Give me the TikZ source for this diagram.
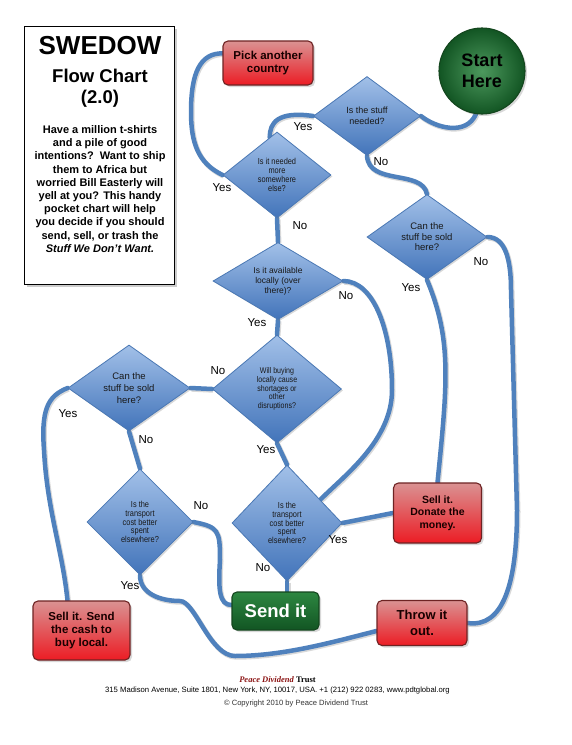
\documentclass[tikz,border=0pt]{standalone}
\usepackage{fontspec}
\setmainfont{Liberation Sans}
\newfontfamily\narrowf[FakeStretch=0.85]{Liberation Sans}
\newfontfamily\seriff{Liberation Serif}
\usetikzlibrary{shapes.geometric,shadows,calc}
\pgfdeclarelayer{back}
\pgfdeclarelayer{bg}
\pgfsetlayers{back,bg,main}
\definecolor{diatop}{RGB}{162,192,232}
\definecolor{diabot}{RGB}{66,116,186}
\definecolor{diaborder}{RGB}{74,120,180}
\definecolor{lineblue}{RGB}{79,129,189}
\definecolor{redtop}{RGB}{218,146,146}
\definecolor{redbot}{RGB}{236,28,36}
\definecolor{redborder}{RGB}{110,35,35}
\definecolor{gtop}{RGB}{45,135,65}
\definecolor{gbot}{RGB}{18,85,35}
\definecolor{gborder}{RGB}{20,70,30}
\definecolor{pdtred}{RGB}{140,20,20}
\begin{document}
\begin{tikzpicture}[x=1pt,y=-1pt,
  dia/.style={diamond, draw=diaborder, line width=0.8pt, top color=diatop, bottom color=diabot,
    inner sep=0pt, align=center, text=black!90,
    drop shadow={shadow xshift=1.5pt,shadow yshift=-1.5pt,opacity=0.3}},
  redbox/.style={rectangle, rounded corners=5pt, draw=redborder, line width=1.1pt,
    top color=redtop, bottom color=redbot, align=center, inner sep=0pt,
    font=\bfseries\fontsize{11.5}{13}\selectfont, text=black!90!red,
    drop shadow={shadow xshift=2pt,shadow yshift=-2pt,opacity=0.3}},
  greenbox/.style={rectangle, rounded corners=5pt, draw=gborder, line width=1.1pt,
    top color=gtop, bottom color=gbot, align=center, inner sep=0pt,
    drop shadow={shadow xshift=2pt,shadow yshift=-2pt,opacity=0.3}},
  conn/.style={draw=lineblue, line width=4.5pt, line cap=round,
    preaction={draw=black, draw opacity=0.15, line width=5pt,
      transform canvas={xshift=1pt, yshift=-1.2pt}}},
  lbl/.style={font=\fontsize{11.5}{13}\selectfont, inner sep=0pt},
  ttl/.style={font=\bfseries, inner sep=0pt, align=center}]
\begin{pgfonlayer}{back}
\fill[white] (0,0) rectangle (571,745);
\end{pgfonlayer}
\useasboundingbox (0,0) rectangle (571,745);

% title box
\node[draw=black, line width=0.8pt, fill=white, minimum width=150pt, minimum height=258pt,
  drop shadow={shadow xshift=3pt, shadow yshift=-3pt, opacity=0.4}] (titlebox) at (99,155) {};
\node[ttl, font=\bfseries\fontsize{26}{28}\selectfont] (t1) at (100,46) {SWEDOW};
\node[ttl, font=\bfseries\fontsize{18.5}{20}\selectfont] (t2) at (100,76) {Flow Chart};
\node[ttl, font=\bfseries\fontsize{18.5}{20}\selectfont] (t3) at (100,99) {(2.0)};
\node[ttl, font=\bfseries\fontsize{11}{13.2}\selectfont] (body) at (100,189) {Have a million t-shirts\\
and a pile of good\\
intentions?\ \ Want to ship\\
them to Africa but\\
worried Bill Easterly will\\
yell at you? This handy\\
pocket chart will help\\
you decide if you should\\
send, sell, or trash the\\
\textit{Stuff We Don’t Want.}};

% terminal nodes
\node[circle, draw=gborder, line width=1.1pt, minimum size=86pt, inner sep=0pt,
  shading=radial, inner color=gtop!85!white, outer color=gbot, align=center,
  font=\bfseries\fontsize{18}{21}\selectfont, text=black,
  drop shadow={shadow xshift=2pt,shadow yshift=-2pt,opacity=0.3}] (start) at (482,71) {Start\\Here};
\node[redbox, minimum width=90pt, minimum height=44pt] (pick) at (268,63) {Pick another\\country};
\node[redbox, minimum width=88pt, minimum height=60pt, font=\bfseries\fontsize{10.5}{12.5}\selectfont] (sell2) at (437.5,513) {Sell it.\\Donate the\\money.};
\node[redbox, minimum width=90pt, minimum height=45pt, font=\bfseries\fontsize{13}{16}\selectfont] (throw) at (422,623) {Throw it\\out.};
\node[redbox, minimum width=97pt, minimum height=59pt, font=\bfseries\fontsize{11.5}{13}\selectfont] (sell1) at (81.5,630.5) {Sell it. Send\\the cash to\\buy local.};
\node[greenbox, minimum width=87pt, minimum height=38pt, text=white,
  font=\bfseries\fontsize{18.5}{20}\selectfont] (send) at (275.5,611) {Send it};

% decisions
\node[dia, minimum width=107pt, minimum height=79pt, font=\fontsize{9}{11}\selectfont] (d1) at (367,116) {Is the stuff\\needed?};
\node[dia, minimum width=108pt, minimum height=86pt, font=\narrowf\fontsize{8.7}{9}\selectfont] (d2) at (277,175) {Is it needed\\more\\somewhere\\else?};
\node[dia, minimum width=130pt, minimum height=68pt, font=\fontsize{8.5}{10}\selectfont] (d3) at (278,281) {Is it available\\locally (over\\there)?};
\node[dia, minimum width=120pt, minimum height=85pt, font=\fontsize{9.5}{10.5}\selectfont] (d4) at (427,237) {Can the\\stuff be sold\\here?};
\node[dia, minimum width=129pt, minimum height=108pt, font=\narrowf\fontsize{8.3}{8.7}\selectfont] (d5) at (277,389) {Will buying\\locally cause\\shortages or\\other\\disruptions?};
\node[dia, minimum width=122pt, minimum height=86pt, font=\fontsize{9.5}{12}\selectfont] (d6) at (129,388) {Can the\\stuff be sold\\here?};
\node[dia, minimum width=106pt, minimum height=106pt, font=\narrowf\fontsize{8.7}{8.8}\selectfont] (d7) at (140,522) {Is the\\transport\\cost better\\spent\\elsewhere?};
\node[dia, minimum width=110pt, minimum height=116pt, font=\narrowf\fontsize{8.7}{8.8}\selectfont] (d8) at (287,523) {Is the\\transport\\cost better\\spent\\elsewhere?};

% connectors
\begin{pgfonlayer}{bg}
\draw[conn] (start.262) .. controls +(-10,22) and +(15,12) .. (d1.east);
\draw[conn] (d1.west) .. controls +(-35,-5) and +(0,-15) .. (d2.101);
\draw[conn] (d2.west) .. controls +(-25,-12) and +(0,30) .. (191,112) .. controls +(0,-40) and +(-22,0) .. (pick.168);
\draw[conn] (d2.south) -- (d3.north);
\draw[conn] (d1.south) .. controls +(2,30) and +(-5,-25) .. (d4.north);
\draw[conn] (d4.south) .. controls +(25,60) and +(10,-100) .. (sell2.north);
\draw[conn] (d4.east) .. controls +(18,0) and +(0,-30) .. (511,290) -- (517,510) .. controls +(0,75) and +(35,5) .. (throw.east);
\draw[conn] (d3.east) .. controls +(30,0) and +(0,-60) .. (392,390) .. controls +(0,50) and +(25,-25) .. (d8.35);
\draw[conn] (d3.south) -- (d5.north);
\draw[conn] (d5.west) -- (d6.east);
\draw[conn] (d5.south) -- (d8.north);
\draw[conn] (d6.south) -- (d7.north);
\draw[conn] (d6.west) .. controls +(-20,8) and +(-3,-40) .. (44,450) .. controls +(3,60) and +(-5,-50) .. ([xshift=-14pt]sell1.north);
\draw[conn] (d7.east) .. controls +(25,5) and +(0,-30) .. (220,560) .. controls +(-2,30) and +(-12,0) .. ([yshift=6pt]send.west);
\draw[conn] (d7.south) .. controls +(0,18) and +(-20,0) .. (180,601) .. controls +(15,0) and +(-25,0) .. (235,656) .. controls +(50,0) and +(-40,10) .. ([yshift=-8pt]throw.west);
\draw[conn] (d8.east) -- (sell2.west);
\draw[conn] (d8.south) -- (d8.south |- send.north);
\end{pgfonlayer}

% labels
\node[lbl] (l1) at (303,127) {Yes};
\node[lbl] (l2) at (381,162) {No};
\node[lbl] (l3) at (222,188) {Yes};
\node[lbl] (l4) at (300,226) {No};
\node[lbl] (l5) at (481,262) {No};
\node[lbl] (l6) at (411,288) {Yes};
\node[lbl] (l7) at (346,296) {No};
\node[lbl] (l8) at (257,323) {Yes};
\node[lbl] (l9) at (218,371) {No};
\node[lbl] (l10) at (266,450) {Yes};
\node[lbl] (l11) at (68,414) {Yes};
\node[lbl] (l12) at (146,440) {No};
\node[lbl] (l13) at (201,506) {No};
\node[lbl] (l14) at (130,586) {Yes};
\node[lbl] (l15) at (338,540) {Yes};
\node[lbl] (l16) at (263,568) {No};

% footer
\node[inner sep=0pt, font=\seriff\bfseries\fontsize{8.5}{9}\selectfont] (f1) at (277.5,680) {\textcolor{pdtred}{\textit{Peace Dividend}} Trust};
\node[inner sep=0pt, font=\fontsize{7.7}{8}\selectfont] (f2) at (277.5,690.5) {315 Madison Avenue, Suite 1801, New York, NY, 10017, USA. +1 (212) 922 0283, www.pdtglobal.org};
\node[inner sep=0pt, font=\fontsize{7.6}{8}\selectfont, text=black!80] (f3) at (296,703.5) {© Copyright 2010 by Peace Dividend Trust};
\end{tikzpicture}
\end{document}
